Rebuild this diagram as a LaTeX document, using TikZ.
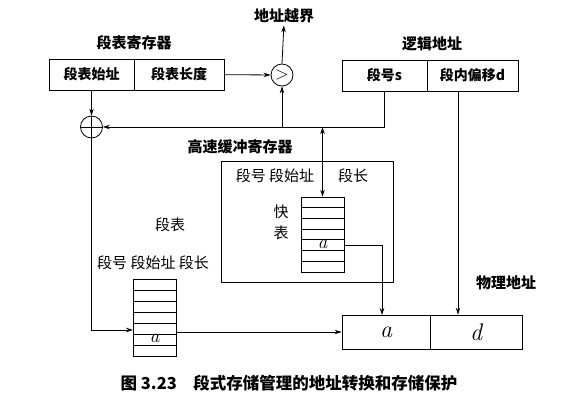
\documentclass[tikz,border=0pt]{standalone}
\usepackage{fontspec}
\newfontfamily\cjk{Noto Sans CJK SC}
\usetikzlibrary{arrows.meta}
\newcommand{\itl}[1]{{\rmfamily\itshape #1}}
\begin{document}
\begin{tikzpicture}[x=1pt,y=-1pt,
  conn/.style={line width=0.8pt},
  arr/.style={conn,-{Stealth[length=7pt,width=4.5pt]}},
  darr/.style={conn,{Stealth[length=7pt,width=4.5pt]}-{Stealth[length=7pt,width=4.5pt]}},
  lbl/.style={font=\cjk\bfseries\fontsize{15}{18}\selectfont, inner sep=0pt},
  thintxt/.style={font=\cjk\fontsize{15}{18}\selectfont, inner sep=0pt},
  cell/.style={draw, conn, minimum height=31pt, inner sep=0pt, font=\cjk\bfseries\fontsize{14}{17}\selectfont},
  ring/.style={draw, conn, circle, minimum size=22pt, inner sep=0pt},
  tbl/.style={draw, conn, minimum width=43pt, inner sep=0pt},
  letter/.style={font=\rmfamily\itshape\fontsize{19}{22}\selectfont, inner sep=0pt},
  bigletter/.style={font=\rmfamily\itshape\fontsize{24}{28}\selectfont},
]
\useasboundingbox (0,0) rectangle (576,410);

% segment table register
\node[cell, minimum width=85pt] (regA) at (91.5,74.5) {段表始址};
\node[cell, minimum width=90pt] (regB) at (179,74.5) {段表长度};
\node[lbl] (regL) at (134,43) {段表寄存器};

% comparator
\node[ring, font=\rmfamily\fontsize{18}{18}\selectfont] (cmp) at (282,75) {>};
\node[lbl] (over) at (284,16) {地址越界};

% logical address
\node[cell, minimum width=85pt] (logS) at (384.5,75.5) {段号s};
\node[cell, minimum width=91pt] (logD) at (472.5,75.5) {段内偏移d};
\node[lbl] (logL) at (432,44) {逻辑地址};

% adder
\node[ring] (plus) at (91.5,127) {};
\draw[conn] (plus.north) -- (plus.south) (plus.west) -- (plus.east);

% cache
\node[draw, conn, minimum width=172pt, minimum height=121pt, inner sep=0pt] (cache) at (307,221.5) {};
\node[lbl] (cacheL) at (240,147) {高速缓冲寄存器};
\node[thintxt] (ch1) at (275,176) {段号 段始址};
\node[thintxt] (ch2) at (353,176) {段长};
\node[tbl, minimum height=75pt] (qt) at (322.5,234.5) {};
\foreach \i in {1,...,6} \draw[conn] (301,{197+\i*75/7}) -- (344,{197+\i*75/7});
\node[letter] (qa) at (322.5,{196+4.5*75/7}) {a};
\node[thintxt] (kuai) at (281,212) {快};
\node[thintxt] (biao) at (281,233) {表};

% segment table
\node[thintxt] (stL) at (170,225) {段表};
\node[thintxt] (stH) at (153,263) {段号 段始址 段长};
\node[tbl, minimum height=77pt] (st) at (154.5,317.5) {};
\foreach \i in {1,...,6} \draw[conn] (133,{279+\i*11}) -- (176,{279+\i*11});
\node[letter] (sa) at (154.5,338.5) {a};

% physical address
\node[draw, conn, minimum width=88pt, minimum height=34pt, inner sep=0pt] (pa) at (386,332) {};
\node[draw, conn, minimum width=92pt, minimum height=34pt, inner sep=0pt] (pd) at (476,332) {};
\node[bigletter] (paT) at (pa) {a};
\node[bigletter] (pdT) at (pd) {d};
\node[lbl] (physL) at (506,283) {物理地址};

% caption
\node[font=\cjk\bfseries\fontsize{16.5}{20}\selectfont, inner sep=0pt] (cap) at (289,383) {图 3.23\quad 段式存储管理的地址转换和存储保护};

% connectors
\coordinate (j1) at (cmp |- plus);
\coordinate (j2) at (qt.north |- plus);
\coordinate (stin) at (133,330);
\coordinate (stout) at (176,332);
\coordinate (pain) at (382,315);
\coordinate (ldout) at (458,91);
\draw[arr] (regB) -- (cmp);
\draw[arr, shorten >=2pt] (cmp.north) -- (over.south);
\draw[arr] (regA.south) -- (plus.north);
\draw[arr] (logS.south) |- (plus.east);
\draw[arr] (j1) -- (cmp.south);
\draw[darr] (j2) -- (qt.north);
\draw[arr] (plus.south) |- (stin);
\draw[arr] (stout) -- (pa.west);
\draw[arr] (qt.east |- 0,245) -| (pain);
\draw[arr] (ldout) -- (ldout |- pd.north);
\end{tikzpicture}
\end{document}
